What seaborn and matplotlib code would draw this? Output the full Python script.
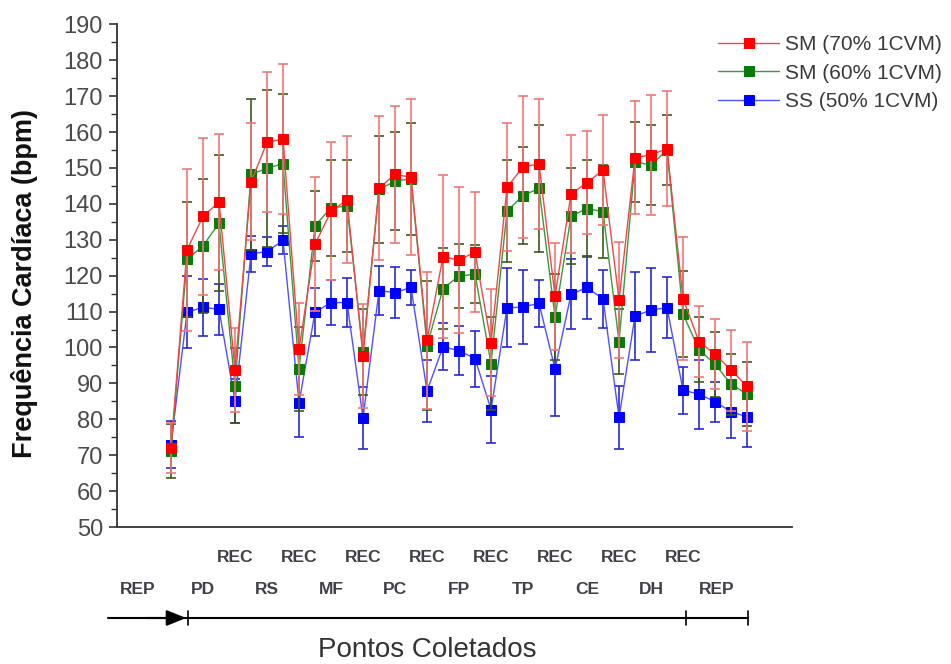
import numpy as np
import pandas as pd
import matplotlib
matplotlib.use("Agg")
import matplotlib.pyplot as plt
import matplotlib.transforms as mtransforms
from matplotlib.ticker import MultipleLocator
import seaborn as sns

# ---------------- data ----------------
points = (["REP"] +
          ["PD1", "PD2", "PD3", "REC1"] +
          ["RS1", "RS2", "RS3", "REC2"] +
          ["MF1", "MF2", "MF3", "REC3"] +
          ["PC1", "PC2", "PC3", "REC4"] +
          ["FP1", "FP2", "FP3", "REC5"] +
          ["TP1", "TP2", "TP3", "REC6"] +
          ["CE1", "CE2", "CE3", "REC7"] +
          ["DH1", "DH2", "DH3", "REC8"] +
          ["REP1", "REP2", "REP3", "REP4"])

sm70 = [72.1, 127.2, 136.5, 140.5, 93.7, 146.1, 157.1, 158.1, 99.5, 128.8, 137.9, 141.1,
        97.6, 144.4, 148.2, 147.4, 102.0, 125.3, 124.3, 126.6, 101.3, 144.6, 150.3, 151.1,
        114.3, 142.7, 145.9, 149.4, 113.2, 152.9, 153.6, 155.4, 113.6, 101.6, 98.1, 93.7, 89.2]
sm70_sd = [7.0, 22.5, 21.8, 19.0, 11.6, 16.3, 19.5, 20.9, 12.8, 18.7, 19.2, 17.7,
           14.4, 20.0, 19.0, 21.7, 19.0, 22.7, 20.3, 16.8, 14.9, 17.8, 19.7, 18.0,
           14.9, 16.5, 14.4, 15.3, 16.2, 15.8, 16.7, 16.0, 17.2, 9.9, 9.7, 11.3, 12.4]

sm60 = [71.2, 124.5, 128.3, 134.6, 89.4, 148.2, 149.9, 151.2, 94.0, 133.9, 138.9, 139.4,
        98.8, 144.0, 146.3, 147.0, 100.5, 116.4, 119.9, 120.4, 95.5, 138.0, 142.3, 144.3,
        108.4, 136.6, 138.7, 137.8, 101.6, 151.7, 150.8, 155.0, 109.3, 99.4, 95.3, 89.8, 87.0]
sm60_sd = [7.5, 16.0, 18.6, 19.0, 10.5, 21.0, 21.9, 19.4, 11.8, 9.8, 13.4, 12.7,
           12.0, 14.8, 13.6, 15.6, 18.0, 11.2, 9.0, 8.0, 13.0, 14.2, 13.6, 17.7,
           12.0, 13.3, 13.5, 13.0, 9.0, 11.2, 11.2, 9.7, 12.0, 9.0, 9.0, 8.5, 9.0]

ss50 = [72.9, 109.8, 111.2, 110.6, 85.1, 126.1, 126.7, 129.8, 84.6, 109.8, 112.5, 112.5,
        80.3, 115.8, 115.3, 116.7, 87.9, 100.2, 99.1, 96.9, 82.7, 111.0, 111.3, 112.3,
        94.0, 114.8, 116.7, 113.5, 80.5, 108.8, 110.4, 111.1, 88.1, 87.0, 84.9, 82.1, 80.7]
ss50_sd = [6.5, 10.0, 8.0, 7.0, 6.0, 5.0, 4.0, 3.9, 9.6, 6.7, 6.2, 6.9,
           8.6, 6.8, 7.0, 5.0, 8.6, 6.5, 6.8, 7.8, 9.4, 11.0, 10.2, 6.5,
           13.0, 9.7, 8.9, 8.0, 8.9, 12.3, 11.6, 8.6, 6.5, 9.6, 5.6, 7.2, 8.4]

series_names = ["SM (70% 1CVM)", "SM (60% 1CVM)", "SS (50% 1CVM)"]

rec_labels = ["REC"] * 8
rec_index = [4, 8, 12, 16, 20, 24, 28, 32]
phase_labels = ["REP", "PD", "RS", "MF", "PC", "FP", "TP", "CE", "DH", "REP"]
phase_index = [-2.06, 2, 6, 10, 14, 18, 22, 26, 30, 34.1]

# ---------------- figure ----------------
sns.set_theme(style="ticks")
plt.rcParams["font.family"] = ["Liberation Sans", "DejaVu Sans"]

W, H = 951, 664
fig = plt.figure(figsize=(W / 100, H / 100), dpi=100)
ax = fig.add_axes([117 / W, 1 - 527 / H, (792 - 117) / W, (527 - 24.3) / H])

x = np.arange(len(points))
df = pd.DataFrame({
    "x": np.tile(x, 3),
    "y": sm70 + sm60 + ss50,
    "sd": sm70_sd + sm60_sd + ss50_sd,
    "serie": np.repeat(series_names, len(points)),
})

styles = {
    "SS (50% 1CVM)": dict(line="#5050ff", mk="#0000ff", err="#2a2ad0"),
    "SM (60% 1CVM)": dict(line="#3a9a3a", mk="#0a7a0a", err="#3d5a1a"),
    "SM (70% 1CVM)": dict(line="#ee4848", mk="#ff0000", err="#f07878"),
}

handles = {}
for name in ["SS (50% 1CVM)", "SM (60% 1CVM)", "SM (70% 1CVM)"]:
    sub = df[df["serie"] == name]
    st = styles[name]
    ax.errorbar(sub["x"], sub["y"], yerr=sub["sd"], fmt="none", ecolor=st["err"],
                elinewidth=1.2, capsize=3.5, capthick=1.2)
    sns.lineplot(data=sub, x="x", y="y", ax=ax, color=st["line"], linewidth=1.0,
                 marker="s", markersize=6.5, markerfacecolor=st["mk"],
                 markeredgecolor=st["mk"], label=name, legend=False)

for ln in ax.get_lines():
    handles[ln.get_label()] = ln

ax.set_xlim(-3.375, 38.81)
ax.set_ylim(50, 190)
ax.yaxis.set_major_locator(MultipleLocator(10))
ax.yaxis.set_minor_locator(MultipleLocator(5))
ax.set_xticks([])
ax.set_xlabel("")
ax.tick_params(axis="y", which="major", direction="out", length=6, width=1.2,
               labelsize=17, labelcolor="#4a4a4a", color="#333333", pad=4)
ax.tick_params(axis="y", which="minor", direction="out", length=4, width=1.0, color="#333333")
sns.despine(ax=ax)
for s in ["left", "bottom"]:
    ax.spines[s].set_linewidth(1.3)
    ax.spines[s].set_color("#333333")

ax.set_ylabel("Frequência Cardíaca (bpm)", fontsize=19.5, fontweight="bold", color="#111111")
ax.yaxis.set_label_coords(-0.117, 0.485)

# legend
hl = [handles[n] for n in series_names]
leg = fig.legend(hl, series_names, loc="upper left", bbox_to_anchor=(710 / W, 1 - 27 / H),
                 frameon=False, fontsize=15, handlelength=2.9, labelspacing=0.45,
                 handletextpad=0.3, borderaxespad=0)
for t in leg.get_texts():
    t.set_color("#3a3a3a")

# annotations below the axes
tr = mtransforms.blended_transform_factory(ax.transData, fig.transFigure)
for xi, lab in zip(rec_index, rec_labels):
    ax.text(xi, 1 - 558 / H, lab, transform=tr, ha="center", va="center",
            fontsize=12.5, fontweight="bold", color="#404048", clip_on=False)
for xi, lab in zip(phase_index, phase_labels):
    ax.text(xi, 1 - 590 / H, lab, transform=tr, ha="center", va="center",
            fontsize=12.5, fontweight="bold", color="#404048", clip_on=False)

ya = 1 - 618 / H
ax.plot([-3.94, 36.06], [ya, ya], transform=tr, color="black", lw=1.5, clip_on=False)
ax.annotate("", xy=(0.95, ya), xytext=(-1.5, ya), xycoords=tr, textcoords=tr,
            arrowprops=dict(arrowstyle="-|>,head_length=1.0,head_width=0.4",
                            color="black", lw=1.5, shrinkA=0, shrinkB=0))
for xt in [1.06, 32.2, 36.06]:
    ax.plot([xt, xt], [ya - 7 / H, ya + 7 / H], transform=tr, color="black", lw=1.2,
            clip_on=False)

fig.text((318 + 537) / 2 / W, 1 - 650 / H, "Pontos Coletados", ha="center", va="center",
         fontsize=20, color="#333333")

fig.savefig("out.png", dpi=100)
